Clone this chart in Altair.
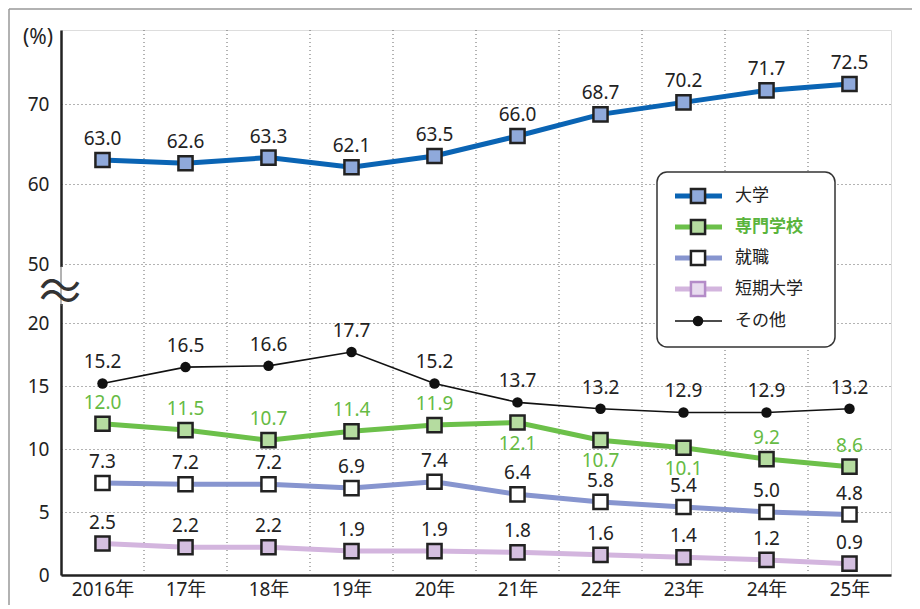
import altair as alt
import pandas as pd

FONT = "Noto Sans, Noto Sans CJK JP"
CJK = "Noto Sans CJK JP"

years = ["2016年", "17年", "18年", "19年", "20年", "21年", "22年", "23年", "24年", "25年"]
series_names = ["大学", "専門学校", "就職", "短期大学", "その他"]
daigaku = [63.0, 62.6, 63.3, 62.1, 63.5, 66.0, 68.7, 70.2, 71.7, 72.5]
senmon = [12.0, 11.5, 10.7, 11.4, 11.9, 12.1, 10.7, 10.1, 9.2, 8.6]
shushoku = [7.3, 7.2, 7.2, 6.9, 7.4, 6.4, 5.8, 5.4, 5.0, 4.8]
tandai = [2.5, 2.2, 2.2, 1.9, 1.9, 1.8, 1.6, 1.4, 1.2, 0.9]
sonota = [15.2, 16.5, 16.6, 17.7, 15.2, 13.7, 13.2, 12.9, 12.9, 13.2]
# label placed below the marker for these 専門学校 points
senmon_label_below = [False, False, False, False, False, True, True, True, False, False]
y_tick_values = [0, 5, 10, 15, 20, 50, 60, 70]

line_colors = ["#0a64b4", "#6cc04a", "#8795cf", "#d3b5de", "#111111"]
marker_fills = ["#8fa9db", "#b5dca0", "#ffffff", "#d4bfe0", "#111111"]
GREEN_TEXT = "#66bb44"

all_values = [daigaku, senmon, shushoku, tandai, sonota]
rows = []
for s, vals in zip(series_names, all_values):
    for i, v in enumerate(vals):
        below = senmon_label_below[i] if s == "専門学校" else False
        rows.append({"idx": i, "year": years[i], "series": s, "value": v, "below": below})
df = pd.DataFrame(rows)
bounds = pd.DataFrame({"b": [i + 0.5 for i in range(len(years) - 1)]})

W, H = 830, 545
LOW = 12.6   # px per unit below the break
HIGH = 8.0   # px per unit above the break
BASE50 = 311  # px height of 50

pos_expr = f"datum.value < 40 ? datum.value*{LOW} : {BASE50} + (datum.value-50)*{HIGH}"


def to_pos(v):
    return v * LOW if v < 40 else BASE50 + (v - 50) * HIGH


year_list = "[" + ",".join(f"'{y}'" for y in years) + "]"
x_scale = alt.Scale(domain=[-0.5, len(years) - 0.5], nice=False, zero=False)
y_scale = alt.Scale(domain=[0, H], nice=False, zero=True)
x_axis = alt.Axis(values=list(range(len(years))), labelExpr=f"{year_list}[datum.value]",
                  grid=False, ticks=False, domainColor="#222", domainWidth=2.5,
                  labelFontSize=19, labelColor="#222", labelPadding=5, title=None,
                  labelFont=FONT, labelFontWeight="normal")
y_axis = alt.Axis(values=[to_pos(v) for v in y_tick_values],
                  labelExpr=f"datum.value < 300 ? format(round(datum.value/{LOW}),'d') : format(round(50 + (datum.value-{BASE50})/{HIGH}),'d')",
                  grid=True, gridDash=[1, 3], gridColor="#666", gridWidth=1,
                  ticks=False, domainColor="#222", domainWidth=2.5,
                  labelFontSize=19, labelColor="#222", labelPadding=12, title=None,
                  labelFont=FONT, labelFontWeight="normal")

X = alt.X("idx:Q", scale=x_scale, axis=x_axis)
Y = alt.Y("pos:Q", scale=y_scale, axis=y_axis)

base = alt.Chart(df).transform_calculate(pos=pos_expr)

vgrid = alt.Chart(bounds).mark_rule(strokeDash=[1, 3], color="#666", strokeWidth=1).encode(
    x=alt.X("b:Q", scale=x_scale, axis=x_axis))

thick_lines = base.transform_filter("datum.series != 'その他'").mark_line(strokeWidth=5).encode(
    x=X, y=Y, detail="series:N",
    color=alt.Color("series:N", scale=alt.Scale(domain=series_names, range=line_colors), legend=None),
)
thin_line = base.transform_filter("datum.series == 'その他'").mark_line(
    strokeWidth=1.6, color="#111").encode(x=X, y=Y)

squares = base.transform_filter("datum.series != 'その他'").mark_point(
    shape="square", filled=True, size=200, stroke="#222", strokeWidth=2.5, opacity=1).encode(
    x=X, y=Y,
    fill=alt.Fill("series:N", scale=alt.Scale(domain=series_names, range=marker_fills), legend=None),
)
dots = base.transform_filter("datum.series == 'その他'").mark_point(
    shape="circle", filled=True, size=110, color="#111", opacity=1).encode(x=X, y=Y)

TXT = alt.Text("value:Q", format=".1f")
LFS = 19
labels_black = base.transform_filter("datum.series != '専門学校'").mark_text(
    font=FONT, fontSize=LFS, dy=-21, baseline="middle", color="#222").encode(x=X, y=Y, text=TXT)
labels_green_above = base.transform_filter("datum.series == '専門学校' && !datum.below").mark_text(
    font=FONT, fontSize=LFS, dy=-21, baseline="middle", color=GREEN_TEXT).encode(x=X, y=Y, text=TXT)
labels_green_below = base.transform_filter("datum.series == '専門学校' && datum.below").mark_text(
    font=FONT, fontSize=LFS, dy=21, baseline="middle", color=GREEN_TEXT).encode(x=X, y=Y, text=TXT)

one = pd.DataFrame({"a": [0]})

# axis break
break_cover = alt.Chart(one).mark_rect(color="white").encode(
    x=alt.value(-6), x2=alt.value(6), y=alt.value(237), y2=alt.value(274))
break_line = alt.Chart(one).mark_rule(color="#666", strokeWidth=1).encode(
    x=alt.value(0), y=alt.value(236), y2=alt.value(276))
break_sym1 = alt.Chart(one).mark_text(text="〜", font=CJK, fontSize=42, color="#333",
                                      baseline="middle", align="center").encode(
    x=alt.value(-1), y=alt.value(258))
break_sym2 = alt.Chart(one).mark_text(text="〜", font=CJK, fontSize=42, color="#333",
                                      baseline="middle", align="center").encode(
    x=alt.value(-1), y=alt.value(269))
pct = alt.Chart(one).mark_text(text="(%)", font=FONT, fontSize=21, color="#222",
                               baseline="middle", align="center").encode(
    x=alt.value(-23), y=alt.value(8))

# outer frame
frame_top = alt.Chart(one).mark_rule(color="#999", strokeWidth=1.5).encode(
    x=alt.value(-52), x2=alt.value(860), y=alt.value(-21))
frame_left = alt.Chart(one).mark_rule(color="#999", strokeWidth=1.5).encode(
    x=alt.value(-52), y=alt.value(-21), y2=alt.value(600))

# legend
leg_layers = [alt.Chart(one).mark_rect(fill="white", stroke="#333", strokeWidth=1.5, cornerRadius=10).encode(
    x=alt.value(596), x2=alt.value(774), y=alt.value(142), y2=alt.value(317))]
leg_rows = [166, 197, 228, 259, 291]
leg_line_widths = [5, 5, 5, 5, 1.6]
leg_marker_fill = ["#8fa9db", "#b5dca0", "#ffffff", "#e8dcef", "#111111"]
leg_marker_stroke = ["#222", "#222", "#222", "#b48cc8", "#111"]
for k, name in enumerate(series_names):
    ry = leg_rows[k]
    leg_layers.append(alt.Chart(one).mark_rule(color=line_colors[k], strokeWidth=leg_line_widths[k]).encode(
        x=alt.value(614), x2=alt.value(661), y=alt.value(ry)))
    if name == "その他":
        leg_layers.append(alt.Chart(one).mark_point(shape="circle", filled=True, size=110,
                                                    color="#111", opacity=1).encode(
            x=alt.value(637), y=alt.value(ry)))
    else:
        leg_layers.append(alt.Chart(one).mark_point(shape="square", filled=True, size=200,
                                                    fill=leg_marker_fill[k], stroke=leg_marker_stroke[k],
                                                    strokeWidth=2.5, opacity=1).encode(
            x=alt.value(637), y=alt.value(ry)))
    leg_layers.append(alt.Chart(one).mark_text(
        text=name, font=CJK, fontSize=17, align="left", baseline="middle",
        color=("#5ab43c" if name == "専門学校" else "#222"),
        fontWeight=("bold" if name == "専門学校" else "normal")).encode(
        x=alt.value(674), y=alt.value(ry)))

chart = alt.layer(
    frame_top, frame_left, vgrid, thick_lines, thin_line, squares, dots,
    labels_black, labels_green_above, labels_green_below,
    break_cover, break_line, break_sym1, break_sym2, pct, *leg_layers
).properties(
    width=W, height=H,
    autosize=alt.AutoSizeParams(type="none"),
    padding={"left": 53, "top": 22, "right": 21, "bottom": 30},
).configure_view(stroke="#333", strokeWidth=2).configure(background="white")

chart.save("out.html", embed_options={"renderer": "svg", "actions": False})
